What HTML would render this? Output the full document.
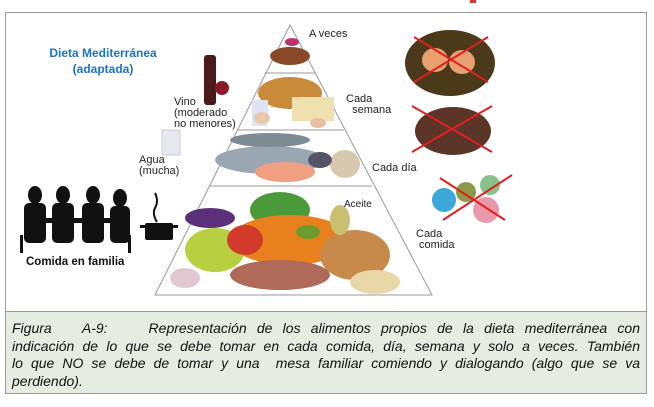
<!DOCTYPE html>
<html><head><meta charset="utf-8"><style>
body{margin:0;width:654px;height:407px;background:#fff;position:relative;overflow:hidden;font-family:"Liberation Sans",Arial,sans-serif}
.t{position:absolute;font-size:11px;color:#222;line-height:11px}
.c div{text-align:justify;text-align-last:justify;white-space:nowrap}
</style></head><body>
<div style="position:absolute;left:5px;top:12px;width:642px;height:382px;border:1px solid #999;box-sizing:border-box"></div>
<div class="c" style="position:absolute;left:5px;top:311px;width:642px;height:83px;background:#e5ede2;border:1px solid #999;box-sizing:border-box;padding:8px 6px 0 6px;font-style:italic;font-size:14px;line-height:17.5px;color:#111">
<div style="white-space:normal">Figura&nbsp;&nbsp; A-9:&nbsp;&nbsp;&nbsp; Representación de los alimentos propios de la dieta mediterránea con</div>
<div style="white-space:normal">indicación de lo que se debe tomar en cada comida, día, semana y solo a veces. También</div>
<div style="white-space:normal">lo que NO se debe de tomar y una&nbsp; mesa familiar comiendo y dialogando (algo que se va</div>
<div style="text-align-last:left">perdiendo).</div>
</div>
<div style="position:absolute;left:470px;top:0;width:6px;height:3px;background:#d33"></div>
<div style="position:absolute;left:38px;top:45px;width:130px;text-align:center;color:#1a73c9;font-weight:bold;font-size:12px;line-height:16px">Dieta Mediterránea<br>(adaptada)</div>
<svg width="654" height="407" style="position:absolute;left:0;top:0">
<polygon points="290,25 155,295 432,295" fill="#fff" stroke="#999" stroke-width="1"/>
<line x1="265" y1="73" x2="316" y2="73" stroke="#999"/>
<line x1="237" y1="130" x2="344" y2="130" stroke="#999"/>
<line x1="209" y1="186" x2="372" y2="186" stroke="#999"/>
<ellipse cx="292" cy="42" rx="7" ry="4" fill="#c0306a"/>
<ellipse cx="290" cy="56" rx="20" ry="9" fill="#8a4a2a"/>
<ellipse cx="290" cy="93" rx="32" ry="16" fill="#c98a3a"/>
<rect x="292" y="97" width="42" height="24" fill="#efe0b0"/>
<rect x="252" y="100" width="16" height="26" fill="#dfe3f3"/>
<ellipse cx="262" cy="118" rx="8" ry="6" fill="#e8c8a8"/>
<ellipse cx="318" cy="123" rx="8" ry="5" fill="#e8c0a0"/>
<ellipse cx="270" cy="160" rx="55" ry="14" fill="#9aa6b2"/>
<ellipse cx="270" cy="140" rx="40" ry="7" fill="#7d8b93"/>
<ellipse cx="285" cy="172" rx="30" ry="10" fill="#f0a080"/>
<ellipse cx="345" cy="164" rx="15" ry="14" fill="#d8c8b0"/>
<ellipse cx="320" cy="160" rx="12" ry="8" fill="#556"/>
<ellipse cx="280" cy="210" rx="30" ry="18" fill="#4b9a3a"/>
<ellipse cx="210" cy="218" rx="25" ry="10" fill="#5b2f7a"/>
<ellipse cx="290" cy="240" rx="60" ry="25" fill="#e8801e"/>
<ellipse cx="215" cy="250" rx="30" ry="22" fill="#b8d040"/>
<ellipse cx="245" cy="240" rx="18" ry="15" fill="#d23a2a"/>
<ellipse cx="355" cy="255" rx="35" ry="25" fill="#c88a4a"/>
<ellipse cx="340" cy="220" rx="10" ry="15" fill="#c8c070"/>
<ellipse cx="280" cy="275" rx="50" ry="15" fill="#b06a5a"/>
<ellipse cx="375" cy="282" rx="25" ry="12" fill="#e8d8a8"/>
<ellipse cx="185" cy="278" rx="15" ry="10" fill="#e0c8d0"/>
<ellipse cx="308" cy="232" rx="12" ry="7" fill="#6a9a2a"/>
<rect x="204" y="55" width="12" height="50" rx="3" fill="#4a1a1a"/>
<ellipse cx="222" cy="88" rx="7" ry="7" fill="#8a1a2a"/>
<rect x="162" y="130" width="18" height="25" fill="#e6eaf0" stroke="#ccd"/>
<g fill="#111">
<ellipse cx="35" cy="195" rx="7" ry="9"/><rect x="24" y="203" width="22" height="40" rx="5"/>
<ellipse cx="63" cy="195" rx="7" ry="9"/><rect x="52" y="203" width="22" height="40" rx="5"/>
<ellipse cx="93" cy="195" rx="7" ry="9"/><rect x="82" y="203" width="22" height="40" rx="5"/>
<ellipse cx="120" cy="198" rx="7" ry="9"/><rect x="110" y="206" width="20" height="37" rx="5"/>
<rect x="40" y="218" width="80" height="5"/>
<rect x="20" y="235" width="3" height="18"/><rect x="128" y="235" width="3" height="18"/>
<rect x="145" y="223" width="28" height="17" rx="2"/>
<rect x="140" y="225" width="38" height="3"/>
</g>
<path d="M155,193 q4,8 0,15 q-3,6 2,14" stroke="#111" stroke-width="2" fill="none"/>
<ellipse cx="450" cy="63" rx="45" ry="33" fill="#4a3a1a"/>
<ellipse cx="435" cy="60" rx="13" ry="12" fill="#e8a070"/><ellipse cx="462" cy="62" rx="13" ry="12" fill="#e8a070"/>
<ellipse cx="453" cy="131" rx="38" ry="24" fill="#5a3528"/>
<circle cx="444" cy="200" r="12" fill="#3aa8d8"/><circle cx="466" cy="192" r="10" fill="#8a9a4a"/><circle cx="490" cy="185" r="10" fill="#8ac08a"/><circle cx="486" cy="210" r="13" fill="#e898a8"/>
<g stroke="#e0201e" stroke-width="2">
<line x1="414" y1="37" x2="488" y2="82"/><line x1="488" y1="37" x2="414" y2="82"/>
<line x1="412" y1="106" x2="492" y2="152"/><line x1="492" y1="106" x2="412" y2="152"/>
<line x1="440" y1="178" x2="505" y2="220"/><line x1="512" y1="175" x2="443" y2="220"/>
</g>
</svg>
<div class="t" style="left:309px;top:29px">A veces</div>
<div class="t" style="left:346px;top:94px">Cada<br>&nbsp;&nbsp;semana</div>
<div class="t" style="left:372px;top:163px">Cada día</div>
<div class="t" style="left:416px;top:229px">Cada<br>&nbsp;comida</div>
<div class="t" style="left:344px;top:199px;font-size:10px">Aceite</div>
<div class="t" style="left:174px;top:97px">Vino<br>(moderado<br>no menores)</div>
<div class="t" style="left:139px;top:155px">Agua<br>(mucha)</div>
<div class="t" style="left:26px;top:257px;font-weight:bold;font-size:11.5px;color:#111">Comida en familia</div>
</body></html>
